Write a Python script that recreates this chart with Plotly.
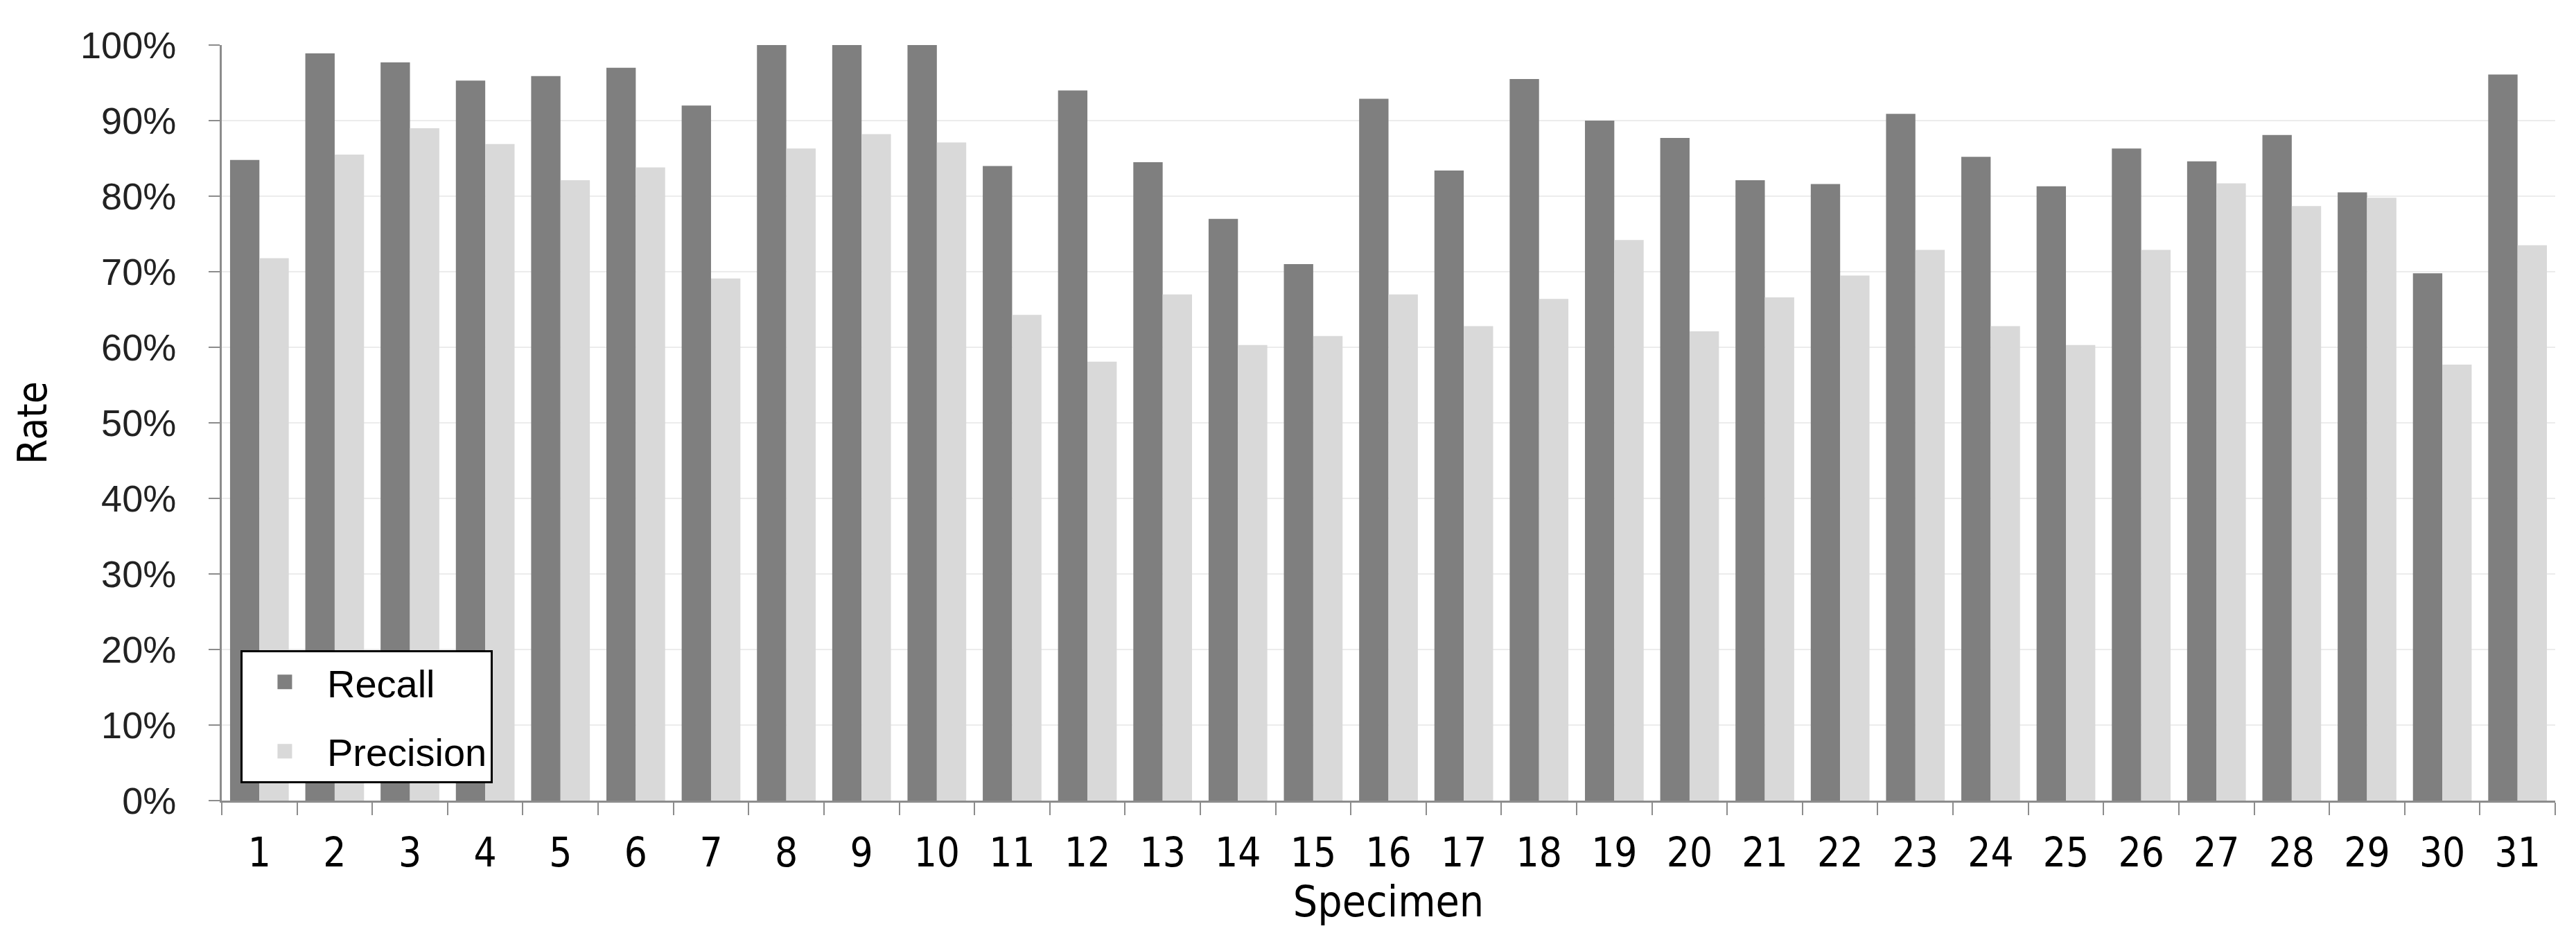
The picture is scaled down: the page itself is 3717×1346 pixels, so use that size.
import plotly.graph_objects as go

specimens = [str(i) for i in range(1, 32)]
recall = [0.848, 0.989, 0.977, 0.953, 0.959, 0.970, 0.920, 1.000, 1.000, 1.000,
          0.840, 0.940, 0.845, 0.770, 0.710, 0.929, 0.834, 0.955, 0.900, 0.877,
          0.821, 0.816, 0.909, 0.852, 0.813, 0.863, 0.846, 0.881, 0.805, 0.698, 0.961]
precision = [0.718, 0.855, 0.890, 0.869, 0.821, 0.838, 0.691, 0.863, 0.882, 0.871,
             0.643, 0.581, 0.670, 0.603, 0.615, 0.670, 0.628, 0.664, 0.742, 0.621,
             0.666, 0.695, 0.729, 0.628, 0.603, 0.729, 0.817, 0.787, 0.798, 0.577, 0.735]
y_ticks = [i / 10 for i in range(0, 11)]
y_labels = [f"{i * 10}%" for i in range(0, 11)]

RECALL_COLOR = "#7f7f7f"
PRECISION_COLOR = "#d9d9d9"
NARROW = "Liberation Sans Narrow, Arial Narrow, DejaVu Sans Condensed, Liberation Sans, Arial, sans-serif"
NORMAL = "Liberation Sans, Arial, sans-serif"

fig = go.Figure()
fig.add_trace(go.Bar(x=specimens, y=recall, name="Recall", showlegend=False,
                     marker=dict(color=RECALL_COLOR, line=dict(width=0)), legendgroup="a"))
fig.add_trace(go.Bar(x=specimens, y=precision, name="Precision", showlegend=False,
                     marker=dict(color=PRECISION_COLOR, line=dict(width=0)), legendgroup="b"))
# legend entries (larger square swatches than the bar legend icon allows)
fig.add_trace(go.Scatter(x=[None], y=[None], mode="markers", name="Recall", legendgroup="a",
                         marker=dict(symbol="square", size=16, color=RECALL_COLOR,
                                     line=dict(width=5, color=RECALL_COLOR)),
                         hoverinfo="skip"))
fig.add_trace(go.Scatter(x=[None], y=[None], mode="markers", name="Precision", legendgroup="b",
                         marker=dict(symbol="square", size=16, color=PRECISION_COLOR,
                                     line=dict(width=5, color=PRECISION_COLOR)),
                         hoverinfo="skip"))

fig.update_layout(
    width=3717, height=1346,
    margin=dict(l=312, r=38, t=57, b=199, autoexpand=False),
    paper_bgcolor="white", plot_bgcolor="white",
    barmode="group", bargap=0.22, bargroupgap=0,
    showlegend=True,
    legend=dict(x=0.008, y=0.023, xanchor="left", yanchor="bottom",
                bgcolor="white", bordercolor="black", borderwidth=3,
                font=dict(family=NORMAL, size=56, color="black"),
                itemwidth=112, tracegroupgap=24, traceorder="grouped",
                entrywidth=320, entrywidthmode="pixels"),
    xaxis=dict(
        type="category", showline=True, linecolor="#8c8c8c", linewidth=3,
        ticks="outside", tickson="boundaries", ticklen=18, tickcolor="#8c8c8c", tickwidth=2,
        tickfont=dict(family=NARROW, size=58, color="black"), ticklabelstandoff=22,
        showgrid=False, automargin=False,
        title=dict(text="Specimen", font=dict(family=NARROW, size=62, color="black"), standoff=14),
    ),
    yaxis=dict(
        range=[0, 1], tickvals=y_ticks, ticktext=y_labels,
        showline=True, linecolor="#8c8c8c", linewidth=3,
        ticks="outside", ticklen=16, tickcolor="#8c8c8c", tickwidth=2,
        tickfont=dict(family=NORMAL, size=54, color="#222222"), ticklabelstandoff=36,
        showgrid=True, gridcolor="#ececec", gridwidth=2, zeroline=False,
        automargin=False,
        title=dict(text="Rate", font=dict(family=NARROW, size=58, color="black"), standoff=30),
    ),
)

fig.write_html("out.html")
